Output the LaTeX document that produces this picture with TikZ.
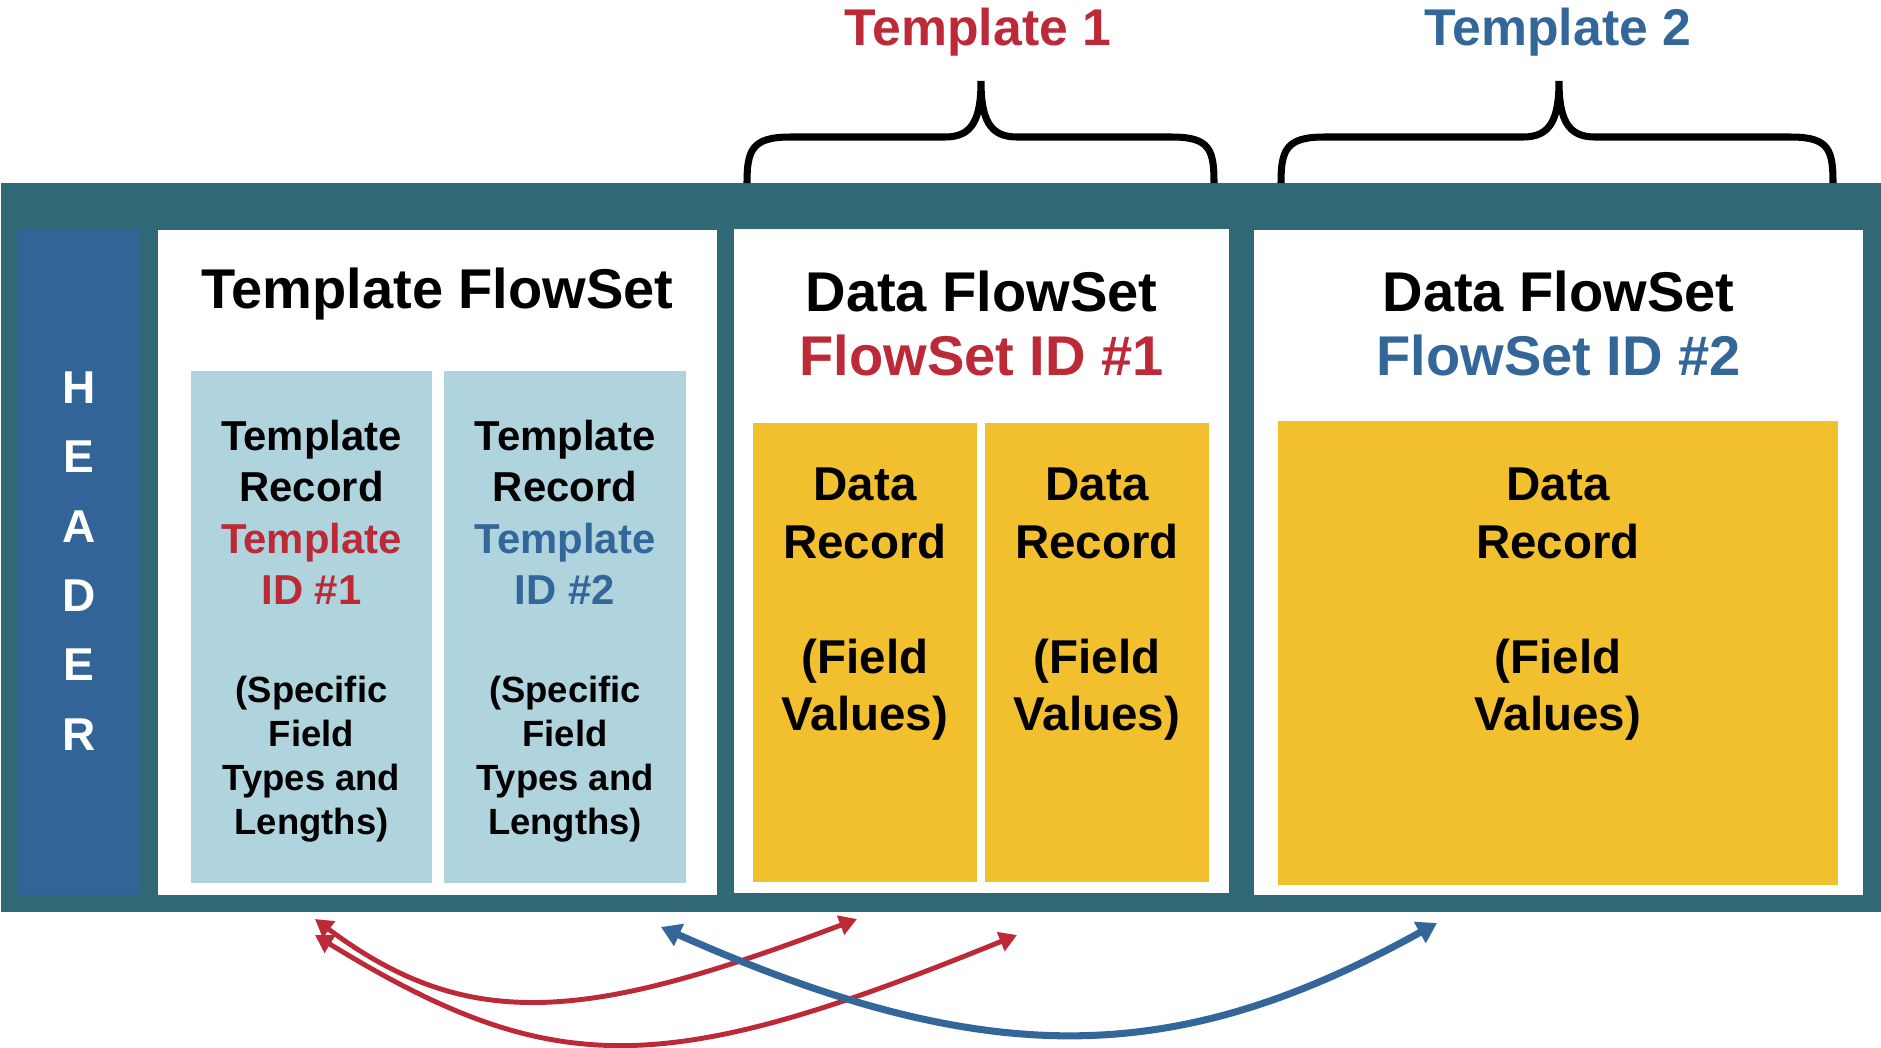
\documentclass[tikz,border=0pt]{standalone}
\usepackage{fontspec}
\setmainfont{Liberation Sans}
\usetikzlibrary{arrows.meta}

\definecolor{nfteal}{HTML}{316875}
\definecolor{nfhdr}{HTML}{336497}
\definecolor{nflight}{HTML}{AFD4DD}
\definecolor{nfyellow}{HTML}{F2BF2E}
\definecolor{nfred}{HTML}{BC2A38}
\definecolor{nfblue}{HTML}{336699}

\tikzset{
  box/.style={inner sep=0pt,outer sep=0pt,draw=none},
  txt/.style={inner sep=0pt,outer sep=0pt,align=center,font=\bfseries},
  ttl/.style={txt,font=\fontsize{15.93}{18.2}\selectfont\bfseries},
  toptxt/.style={txt,font=\fontsize{14.7}{17}\selectfont\bfseries},
  hdrtxt/.style={txt,text=white,font=\fontsize{13.1}{19.7}\selectfont\bfseries},
  rectxt/.style={txt,font=\fontsize{11.9}{14.65}\selectfont\bfseries},
  smalltxt/.style={txt,font=\fontsize{10.36}{12.52}\selectfont\bfseries},
  datatxt/.style={txt,font=\fontsize{13.5}{16.36}\selectfont\bfseries},
  brace/.style={line width=2pt,black},
  redarr/.style={{Triangle[length=5pt,width=5.6pt]}-{Triangle[length=5pt,width=5.6pt]},nfred,line width=1.4pt},
  bluearr/.style={{Triangle[length=5.6pt,width=6.6pt]}-{Triangle[length=5.6pt,width=6.6pt]},nfblue,line width=2pt}
}

\begin{document}
\begin{tikzpicture}[x=0.01cm,y=-0.01cm]
  \useasboundingbox (0,0) rectangle (1881,1047);

  % outer packet and flowsets
  \node[box,fill=nfteal,minimum width=18.79cm,minimum height=7.29cm] (frame) at (941.5,547.5) {};
  \node[box,fill=nfhdr,minimum width=1.21cm,minimum height=6.65cm] (hdr) at (78.5,562.5) {};
  \node[box,fill=white,minimum width=5.59cm,minimum height=6.65cm] (tfs) at (437.5,562.5) {};
  \node[box,fill=white,minimum width=4.95cm,minimum height=6.64cm] (dfs1) at (981.5,561) {};
  \node[box,fill=white,minimum width=6.09cm,minimum height=6.65cm] (dfs2) at (1558.5,562.5) {};

  % records
  \node[box,fill=nflight,minimum width=2.41cm,minimum height=5.12cm] (tr1) at (311.5,627) {};
  \node[box,fill=nflight,minimum width=2.42cm,minimum height=5.12cm] (tr2) at (565,627) {};
  \node[box,fill=nfyellow,minimum width=2.24cm,minimum height=4.59cm] (dr1) at (865,652.5) {};
  \node[box,fill=nfyellow,minimum width=2.24cm,minimum height=4.59cm] (dr2) at (1097,652.5) {};
  \node[box,fill=nfyellow,minimum width=5.60cm,minimum height=4.64cm] (dr3) at (1558,653) {};

  % texts
  \node[hdrtxt,anchor=north] (hdrlbl) at (79,372) {H\\E\\A\\D\\E\\R};
  \node[ttl,anchor=base] (tfslbl) at (437.5,308) {Template FlowSet};
  \node[ttl,anchor=north] (dfs1lbl) at (981.5,271) {Data FlowSet\\\textcolor{nfred}{FlowSet ID \#1}};
  \node[ttl,anchor=north] (dfs2lbl) at (1558.5,271) {Data FlowSet\\\textcolor{nfblue}{FlowSet ID \#2}};
  \node[rectxt,anchor=north] (tr1top) at (311.5,420) {Template\\Record\\\textcolor{nfred}{Template}\\\textcolor{nfred}{ID \#1}};
  \node[rectxt,anchor=north] (tr2top) at (565,420) {Template\\Record\\\textcolor{nfblue}{Template}\\\textcolor{nfblue}{ID \#2}};
  \node[smalltxt,anchor=north] (tr1bot) at (311.5,676) {(Specific\\Field\\Types and\\Lengths)};
  \node[smalltxt,anchor=north] (tr2bot) at (565,676) {(Specific\\Field\\Types and\\Lengths)};
  \node[datatxt,anchor=north] (dr1lbl) at (865,468) {Data\\Record\\[16.36pt](Field\\Values)};
  \node[datatxt,anchor=north] (dr2lbl) at (1097,468) {Data\\Record\\[16.36pt](Field\\Values)};
  \node[datatxt,anchor=north] (dr3lbl) at (1558,468) {Data\\Record\\[16.36pt](Field\\Values)};

  % braces
  \node[toptxt,anchor=base,text=nfred] (tpl1) at (978,45) {Template 1};
  \node[toptxt,anchor=base,text=nfblue] (tpl2) at (1558,45) {Template 2};
  \draw[brace] (747,183) .. controls (747,150) and (752,137) .. (790,137) -- (945,137)
    .. controls (972,137) and (981,120) .. (981,81)
    .. controls (981,120) and (990,137) .. (1017,137) -- (1172,137)
    .. controls (1210,137) and (1214,150) .. (1214,183);
  \draw[brace] (1281,183) .. controls (1281,150) and (1286,137) .. (1324,137) -- (1523,137)
    .. controls (1550,137) and (1559,120) .. (1559,81)
    .. controls (1559,120) and (1568,137) .. (1595,137) -- (1791,137)
    .. controls (1829,137) and (1833,150) .. (1833,183);

  % template id links
  \coordinate (r1a) at (315,919);
  \coordinate (r1b) at (857,919);
  \coordinate (r2a) at (315,935);
  \coordinate (r2b) at (1017,935);
  \coordinate (b1a) at (661,927);
  \coordinate (b1b) at (1437,923);
  \draw[redarr] (r1a) .. controls (470,1035) and (590,1020) .. (r1b);
  \draw[redarr] (r2a) .. controls (555,1082) and (665,1078) .. (r2b);
  \draw[bluearr] (b1a) .. controls (990,1073) and (1177,1067) .. (b1b);
\end{tikzpicture}
\end{document}
